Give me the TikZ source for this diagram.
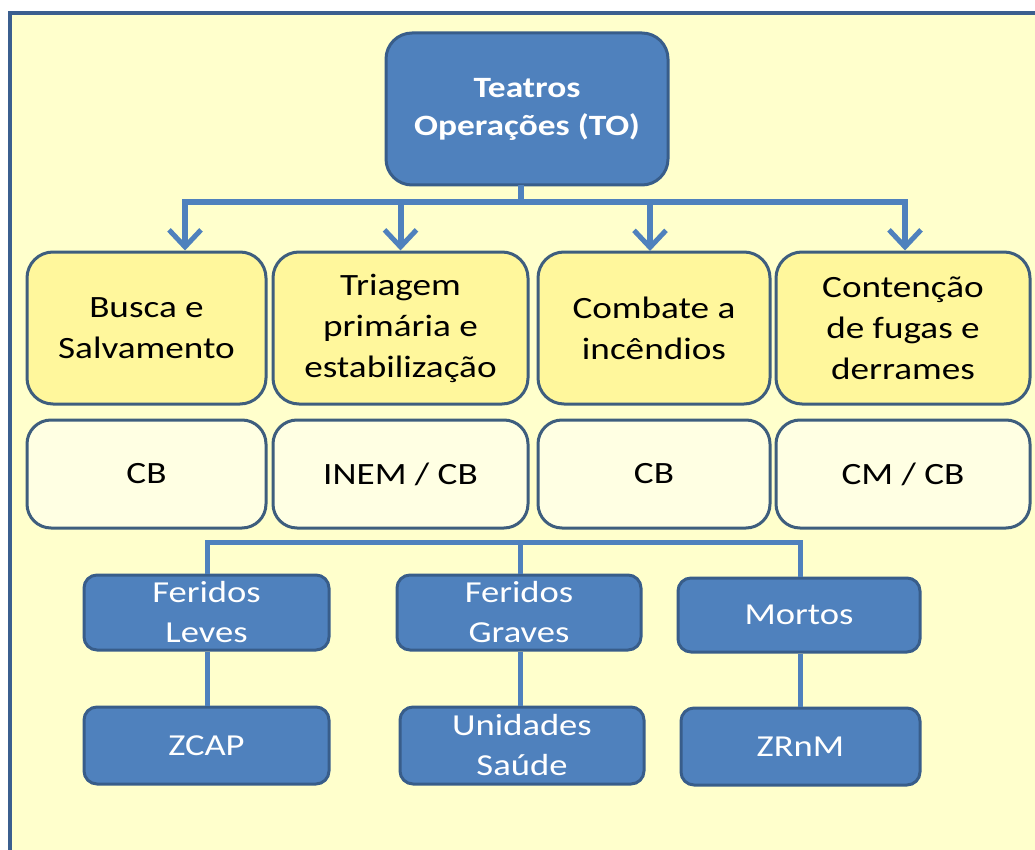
\documentclass[tikz,border=0pt]{standalone}
\usepackage{fontspec}
\setmainfont{Carlito}[FakeStretch=1.2]
\usetikzlibrary{arrows.meta}
\definecolor{bgyellow}{HTML}{FFFFCC}
\definecolor{framecol}{HTML}{3B5F8F}
\definecolor{bluefill}{HTML}{4F81BD}
\definecolor{blueedge}{HTML}{385D8A}
\definecolor{taskfill}{HTML}{FFF79C}
\definecolor{whofill}{HTML}{FFFFE3}
\definecolor{boxedge}{HTML}{3E5E7E}
\tikzset{
  txt/.style={font=\fontsize{31}{41}\selectfont, align=center, inner sep=0pt},
  headbox/.style={txt, font=\fontsize{29.5}{38}\selectfont\bfseries, fill=bluefill, draw=blueedge,
    line width=3pt, rounded corners=26pt, text=white},
  taskbox/.style={txt, fill=taskfill, draw=boxedge, line width=3pt, rounded corners=26pt},
  whobox/.style={txt, fill=whofill, draw=boxedge, line width=3pt, rounded corners=24pt},
  groupbox/.style={txt, font=\fontsize{30.5}{40}\selectfont, fill=bluefill, draw=blueedge,
    line width=3pt, rounded corners=13pt, text=white},
  link/.style={draw=bluefill, line width=6pt},
  thinlink/.style={draw=bluefill, line width=5pt},
  downarrow/.style={link, -{Straight Barb[length=17pt,width=32pt,line width=5pt]}},
}
\begin{document}
\begin{tikzpicture}[x=1pt,y=-1pt]
\useasboundingbox (0,0) rectangle (1035,850);
% page background and frame
\fill[bgyellow] (10,13) rectangle (1040,855);
\draw[framecol, line width=4pt] (10,860) -- (10,13) -- (1040,13);

% head node
\node[headbox, minimum width=282pt, minimum height=152pt] (to) at (527,109)
  {Teatros\\Operações (TO)};

% tasks
\node[taskbox, minimum width=239pt, minimum height=152pt] (t1) at (146.5,328) {Busca e\\Salvamento};
\node[taskbox, minimum width=255pt, minimum height=152pt] (t2) at (400.5,328) {Triagem\\primária e\\estabilização};
\node[taskbox, minimum width=232pt, minimum height=152pt] (t3) at (654,328) {Combate a\\incêndios};
\node[taskbox, minimum width=254pt, minimum height=152pt] (t4) at (903,328) {Contenção\\de fugas e\\derrames};

% responsible entities
\node[whobox, minimum width=239pt, minimum height=108pt] (w1) at (146.5,474) {CB};
\node[whobox, minimum width=255pt, minimum height=108pt] (w2) at (400.5,474) {INEM / CB};
\node[whobox, minimum width=232pt, minimum height=108pt] (w3) at (654,474) {CB};
\node[whobox, minimum width=254pt, minimum height=108pt] (w4) at (903,474) {CM / CB};

% victim groups
\node[groupbox, minimum width=245pt, minimum height=75pt] (fl) at (206.5,612.5) {Feridos\\Leves};
\node[groupbox, minimum width=244pt, minimum height=75pt] (fg) at (519,612.5) {Feridos\\Graves};
\node[groupbox, minimum width=242pt, minimum height=74pt] (mo) at (799,615) {Mortos};

% destinations
\node[groupbox, minimum width=245pt, minimum height=77pt] (zc) at (206.5,745.5) {ZCAP};
\node[groupbox, minimum width=244pt, minimum height=77pt] (us) at (522,745.5) {Unidades\\Saúde};
\node[groupbox, minimum width=239pt, minimum height=77pt] (zr) at (800.5,746.5) {ZRnM};

% head to tasks
\coordinate (stem) at (521,185);
\coordinate (busL) at (185,202);
\coordinate (busR) at (905,202);
\coordinate (tip3) at (650,251);
\draw[link] (stem) -- (stem |- busL);
\draw[link, line cap=rect] (busL) -- (busR);
\draw[downarrow] (busL) -- (busL |- t1.north);
\draw[downarrow] (busL -| t2.north) -- (t2.north);
\draw[downarrow] (busL -| tip3) -- (tip3);
\draw[downarrow] (busR) -- (busR |- t4.north);

% victims branch
\coordinate (vbL) at (207,542);
\coordinate (vbM) at (520,542);
\coordinate (vbR) at (800,542);
\draw[thinlink, line cap=rect] (vbL) -- (vbR);
\draw[thinlink] (vbL) -- (vbL |- fl.north);
\draw[thinlink] (vbM) -- (vbM |- fg.north);
\draw[thinlink] (vbR) -- (vbR |- mo.north);
\draw[thinlink] (vbL |- fl.south) -- (vbL |- zc.north);
\draw[thinlink] (vbM |- fg.south) -- (vbM |- us.north);
\draw[thinlink] (vbR |- mo.south) -- (vbR |- zr.north);
\end{tikzpicture}
\end{document}
